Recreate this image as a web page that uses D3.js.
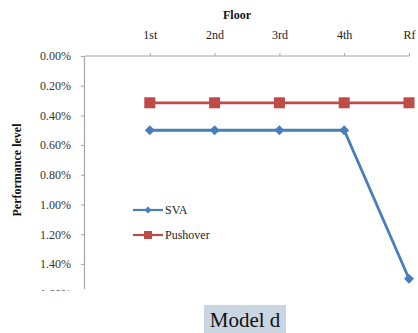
<!DOCTYPE html>
<html><head><meta charset="utf-8">
<script src="https://cdn.jsdelivr.net/npm/d3@7"></script>
<style>body{margin:0;background:#fff;}svg{display:block;}svg text{font-family:"Liberation Serif",serif !important;}</style>
</head><body><svg id="c" width="418" height="333"></svg>
<script>
const categories = ["1st","2nd","3rd","4th","Rf"];
const svaValues = [0.50,0.50,0.50,0.50,1.50];
const pushoverValues = [0.315,0.315,0.315,0.315,0.315];
const yTicks = [0,0.2,0.4,0.6,0.8,1.0,1.2,1.4,1.6];
const seriesNames = ["SVA","Pushover"];

(function(){
const svg = d3.select("#c");
const pLeft = 85, pRight = 409, pTop = 56;
const x = d3.scalePoint().domain(categories).range([pLeft + (pRight-pLeft)/5, pRight]);
const y = d3.scaleLinear().domain([0,1.6]).range([pTop, pTop + 8*29.7]);

svg.append("defs").append("clipPath").attr("id","clip")
  .append("rect").attr("x",0).attr("y",0).attr("width",418).attr("height",291);
const g = svg.append("g").attr("clip-path","url(#clip)");

// y axis
const ya = g.append("g").attr("transform",`translate(${pLeft},0)`)
  .call(d3.axisLeft(y).tickValues(yTicks).tickSize(4).tickPadding(10).tickFormat(d=>d.toFixed(2)+"%"));
ya.select(".domain").attr("stroke","#a6a6a6").attr("stroke-width",1.2).attr("d",`M-0.5,${pTop}V289`);
ya.selectAll(".tick line").attr("stroke","#a6a6a6");
ya.selectAll(".tick text").attr("font-size",12).attr("fill","#333");

// x axis (top)
const xa = g.append("g").attr("transform",`translate(0,${pTop})`)
  .call(d3.axisTop(x).tickSize(3).tickPadding(14));
xa.select(".domain").attr("stroke","#a6a6a6").attr("stroke-width",1.2).attr("d",`M${pLeft},0H${pRight}`);
xa.selectAll(".tick line").attr("stroke","#a6a6a6");
xa.selectAll(".tick text").attr("font-size",12).attr("fill","#222");

const line = d3.line().x((d,i)=>x(categories[i])).y(d=>y(d));
// Pushover
g.append("path").datum(pushoverValues).attr("d",line).attr("fill","none").attr("stroke","#be4b48").attr("stroke-width",2.8);
g.selectAll(".sq").data(pushoverValues).enter().append("rect")
  .attr("x",(d,i)=>x(categories[i])-5.5).attr("y",d=>y(d)-5.5).attr("width",11).attr("height",11).attr("fill","#be4b48");
// SVA
g.append("path").datum(svaValues).attr("d",line).attr("fill","none").attr("stroke","#4a7ebb").attr("stroke-width",2.8);
g.selectAll(".dm").data(svaValues).enter().append("path")
  .attr("transform",(d,i)=>`translate(${x(categories[i])},${y(d)})`)
  .attr("d","M0,-5L5,0L0,5L-5,0Z").attr("fill","#4a7ebb");

// titles
svg.append("text").attr("x",237).attr("y",19).attr("text-anchor","middle")
  .attr("font-weight","bold").attr("font-size",12).attr("fill","#111").text("Floor");
svg.append("text").attr("transform","translate(21,170) rotate(-90)").attr("text-anchor","middle")
  .attr("font-weight","bold").attr("font-size",12).attr("fill","#111").text("Performance level");

// legend
const legColors = ["#4a7ebb","#be4b48"];
const legY = [210,235];
seriesNames.forEach((n,i)=>{
  const lg = svg.append("g").attr("transform",`translate(133,${legY[i]})`);
  lg.append("line").attr("x1",0).attr("x2",30).attr("stroke",legColors[i]).attr("stroke-width",2.2);
  if(i===0) lg.append("path").attr("d","M15,-3.5L18.5,0L15,3.5L11.5,0Z").attr("fill",legColors[i]);
  else lg.append("rect").attr("x",11).attr("y",-4).attr("width",8).attr("height",8).attr("fill",legColors[i]);
  lg.append("text").attr("x",32).attr("y",4).attr("font-size",12).attr("fill","#222").text(n);
});

// caption
svg.append("rect").attr("x",204).attr("y",305).attr("width",82).attr("height",28).attr("fill","#c9d5e1");
svg.append("text").attr("x",245).attr("y",327).attr("text-anchor","middle")
  .attr("font-size",21).attr("fill","#111").text("Model d");
})();
</script></body></html>
